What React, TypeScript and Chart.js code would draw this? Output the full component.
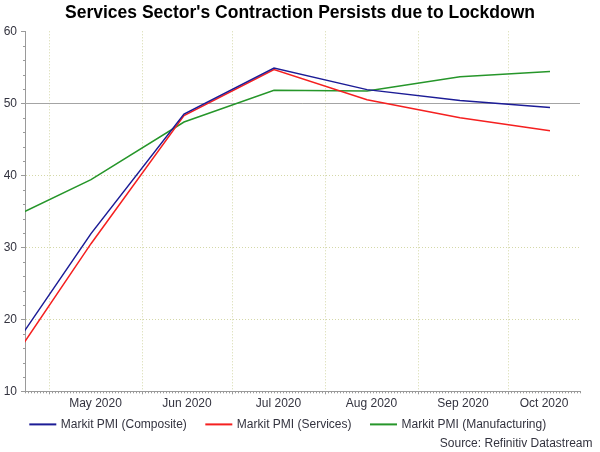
import React, { useEffect, useRef } from 'react';
import { Chart, registerables } from 'chart.js';

Chart.register(...registerables);

// ---- data ----
const TITLE = "Services Sector's Contraction Persists due to Lockdown";
const SOURCE = 'Source: Refinitiv Datastream';
const DATES = ['2020-04-15', '2020-05-15', '2020-06-15', '2020-07-15', '2020-08-15', '2020-09-15', '2020-10-15'];
const COMPOSITE = [13.6, 31.9, 48.5, 54.9, 51.9, 50.4, 49.4];
const SERVICES = [12.0, 30.5, 48.3, 54.7, 50.5, 48.0, 46.2];
const MANUFACTURING = [33.4, 39.4, 47.4, 51.8, 51.7, 53.7, 54.4];
const SERIES_NAMES = ['Markit PMI (Composite)', 'Markit PMI (Services)', 'Markit PMI (Manufacturing)'];
const MONTH_LABELS = ['May 2020', 'Jun 2020', 'Jul 2020', 'Aug 2020', 'Sep 2020', 'Oct 2020'];
const MONTH_STARTS = ['2020-05-01', '2020-06-01', '2020-07-01', '2020-08-01', '2020-09-01', '2020-10-01'];
const AXIS_START = '2020-04-23';
const AXIS_END = '2020-10-25';
const Y_MIN = 10;
const Y_MAX = 60;
const Y_STEP = 10;
const Y_MINOR_STEP = 2;
const REFERENCE_LEVEL = 50;

// ---- styles ----
const FONT_FAMILY = "'Liberation Sans', Arial, Helvetica, sans-serif";
const TEXT_COLOR = '#33333f';
const AXIS_COLOR = '#9a9a9a';
const GRID_COLOR = '#d4d8a8';
const COLORS = ['#1c1c96', '#f52020', '#26962a'];

function toDay(s: string): number {
  const [y, m, d] = s.split('-').map(Number);
  return Date.UTC(y, m - 1, d) / 86400000;
}

const decorPlugin = {
  id: 'decor',
  beforeDatasetsDraw(chart: any) {
    const { ctx, chartArea: a, scales } = chart;
    const py = Math.round(scales.y.getPixelForValue(REFERENCE_LEVEL)) + 0.5;
    ctx.save();
    ctx.strokeStyle = '#a4a4a4';
    ctx.lineWidth = 1;
    ctx.beginPath();
    ctx.moveTo(a.left, py);
    ctx.lineTo(a.right, py);
    ctx.stroke();
    ctx.restore();
  },
  afterDraw(chart: any) {
    const { ctx, chartArea: a, scales } = chart;
    const x = scales.x;
    const y = scales.y;
    ctx.save();
    ctx.strokeStyle = AXIS_COLOR;
    ctx.lineWidth = 1;
    ctx.beginPath();
    for (let d = Math.ceil(x.min); d <= x.max; d++) {
      const px = Math.round(x.getPixelForValue(d)) + 0.5;
      ctx.moveTo(px, a.bottom);
      ctx.lineTo(px, a.bottom + 2);
    }
    for (let v = Y_MIN; v <= Y_MAX; v += Y_MINOR_STEP) {
      const py = Math.round(y.getPixelForValue(v)) + 0.5;
      ctx.moveTo(a.left - 2, py);
      ctx.lineTo(a.left, py);
    }
    ctx.stroke();

    // legend
    ctx.font = `12px ${FONT_FAMILY}`;
    ctx.textBaseline = 'middle';
    ctx.textAlign = 'left';
    let lx = 29.3;
    const ly = 424.4;
    chart.data.datasets.forEach((ds: any) => {
      ctx.fillStyle = ds.borderColor;
      ctx.fillRect(lx, ly - 1, 27, 2);
      lx += 31.5;
      ctx.fillStyle = TEXT_COLOR;
      ctx.fillText(ds.label, lx, ly);
      lx += ctx.measureText(ds.label).width + 18.5;
    });

    // source
    ctx.textAlign = 'right';
    ctx.fillStyle = TEXT_COLOR;
    ctx.fillText(SOURCE, 592.5, 444);
    ctx.restore();
  },
};

export default function App() {
  const canvasRef = useRef<HTMLCanvasElement | null>(null);

  useEffect(() => {
    if (!canvasRef.current) return;
    const xMin = toDay(AXIS_START);
    const xMax = toDay(AXIS_END);
    const starts = MONTH_STARTS.map(toDay);
    const mids = starts.map((s, i) => (s + (i + 1 < starts.length ? starts[i + 1] : xMax)) / 2);
    const series = [COMPOSITE, SERVICES, MANUFACTURING];

    const chart = new Chart(canvasRef.current, {
      type: 'line',
      data: {
        datasets: series.map((vals, k) => ({
          label: SERIES_NAMES[k],
          data: DATES.map((d, i) => ({ x: toDay(d), y: vals[i] })),
          borderColor: COLORS[k],
          backgroundColor: COLORS[k],
          borderWidth: 1.5,
          pointRadius: 0,
          tension: 0,
          fill: false,
          clip: 0,
        })),
      },
      options: {
        responsive: false,
        animation: false,
        events: [],
        layout: { padding: 0 },
        plugins: {
          legend: { display: false },
          tooltip: { enabled: false },
          title: {
            display: true,
            text: TITLE,
            color: '#000',
            font: { size: 17.5, weight: 'bold', family: FONT_FAMILY, lineHeight: 1.2 },
            padding: { top: 2.75, bottom: 7.55 },
          },
        },
        scales: {
          x: {
            type: 'linear',
            position: 'bottom',
            min: xMin,
            max: xMax,
            afterBuildTicks: (s: any) => {
              s.ticks = starts.map((v) => ({ value: v }));
            },
            ticks: { display: false },
            grid: {
              color: GRID_COLOR,
              drawTicks: true,
              tickLength: 3,
              tickColor: AXIS_COLOR,
              tickWidth: 1,
              tickBorderDash: [],
            },
            border: { color: AXIS_COLOR, width: 1, dash: [1, 2] },
            afterFit: (s: any) => {
              s.height = 3;
            },
          },
          xl: {
            type: 'linear',
            position: 'bottom',
            min: xMin,
            max: xMax,
            afterBuildTicks: (s: any) => {
              s.ticks = mids.map((v) => ({ value: v }));
            },
            ticks: {
              autoSkip: false,
              maxRotation: 0,
              padding: 2,
              color: TEXT_COLOR,
              font: { size: 12, family: FONT_FAMILY },
              callback: (_v: any, i: number) => MONTH_LABELS[i],
            },
            grid: { display: false, drawTicks: false },
            border: { display: false },
            afterFit: (s: any) => {
              s.height = 57.7;
            },
          },
          y: {
            type: 'linear',
            min: Y_MIN,
            max: Y_MAX,
            ticks: {
              stepSize: Y_STEP,
              padding: 4,
              color: TEXT_COLOR,
              font: { size: 12, family: FONT_FAMILY },
            },
            grid: {
              color: (c: any) =>
                c.tick && (c.tick.value === Y_MAX || c.tick.value === Y_MIN) ? 'rgba(0,0,0,0)' : GRID_COLOR,
              drawTicks: true,
              tickLength: 4,
              tickColor: AXIS_COLOR,
              tickWidth: 1,
              tickBorderDash: [],
            },
            border: { color: AXIS_COLOR, width: 1, dash: [1, 2] },
            afterFit: (s: any) => {
              s.width = 25;
            },
          },
          yr: {
            type: 'linear',
            position: 'right',
            display: true,
            ticks: { display: false },
            grid: { display: false, drawTicks: false },
            border: { display: false },
            afterFit: (s: any) => {
              s.width = 20;
            },
          },
        },
      } as any,
      plugins: [decorPlugin],
    });

    return () => {
      chart.destroy();
    };
  }, []);

  return (
    <div style={{ position: 'absolute', left: 0, top: 0, width: 600, height: 452, background: '#fff' }}>
      <canvas ref={canvasRef} width={600} height={452} style={{ display: 'block' }} />
    </div>
  );
}
